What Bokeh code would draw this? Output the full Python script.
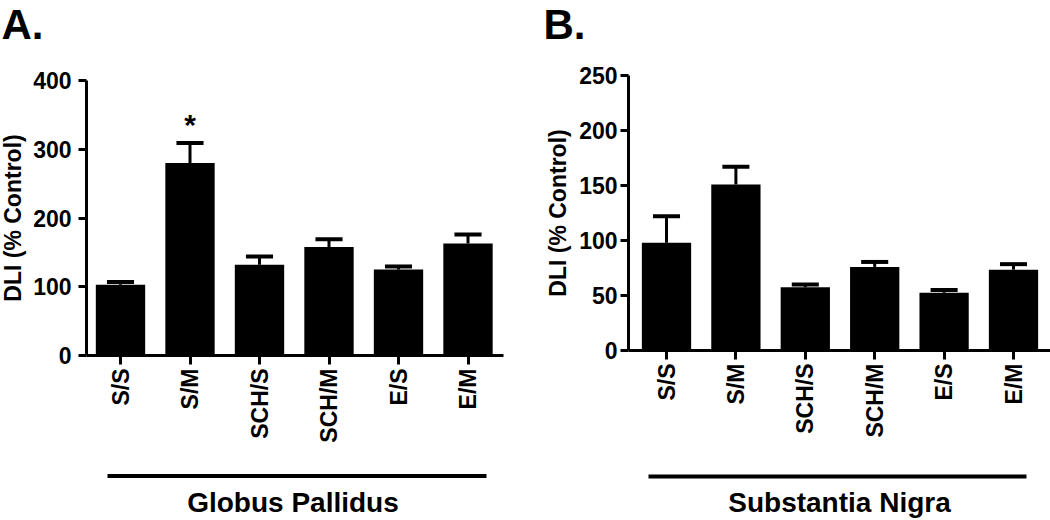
import math
from bokeh.plotting import figure
from bokeh.models import LinearAxis, FixedTicker, Range1d, ColumnDataSource
from bokeh.layouts import row
from bokeh.embed import file_html
from bokeh.resources import INLINE
from bokeh.core.properties import value

# ---------------- data ----------------
categories = ["S/S", "S/M", "SCH/S", "SCH/M", "E/S", "E/M"]

gp_mean = [103, 280, 132, 158, 125, 163]
gp_sem = [4, 29, 12, 11, 4.5, 13]
gp_sig = ["", "*", "", "", "", ""]
gp_ticks = [0, 100, 200, 300, 400]

sn_mean = [98, 151, 57.5, 76, 52.5, 73.5]
sn_sem = [24, 16, 2.5, 4.5, 2.5, 5]
sn_sig = ["", "", "", "", "", ""]
sn_ticks = [0, 50, 100, 150, 200, 250]

y_title = "DLI (% Control)"
FONT = "Liberation Sans"
H = 520


def make_panel(letter, region, means, sems, sig, ticks, cfg):
    W = cfg["W"]
    x0px, xs, y0px, ys = cfg["x0px"], cfg["xs"], cfg["y0px"], cfg["ys"]

    def dx(px):
        return (px - x0px) / xs

    def dy(py):
        return (y0px - py) / ys

    xr = Range1d(dx(0), dx(W))
    yr = Range1d(dy(H), dy(0))
    p = figure(width=W, height=H, x_range=xr, y_range=yr,
               output_backend="svg", toolbar_location=None,
               x_axis_location=None, y_axis_location=None,
               min_border=0, min_border_left=0, min_border_right=0,
               min_border_top=0, min_border_bottom=0,
               outline_line_color=None, background_fill_color="white")
    for g in p.grid:
        g.visible = False

    idx = list(range(len(categories)))
    caps = [m + s for m, s in zip(means, sems)]
    src = ColumnDataSource(dict(
        x=idx, top=means, cap=caps,
        cl=[i - 0.195 for i in idx], cr=[i + 0.195 for i in idx],
        sig=sig, sy=[c + 19 / ys for c in caps],
    ))

    p.vbar(x="x", width=0.71, top="top", bottom=0, source=src,
           fill_color="black", line_color=None)
    p.segment(x0="x", y0="top", x1="x", y1="cap", source=src,
              line_color="black", line_width=3)
    p.segment(x0="cl", y0="cap", x1="cr", y1="cap", source=src,
              line_color="black", line_width=4)
    p.text(x="x", y="sy", text="sig", source=src,
           text_font=value(FONT), text_font_style="bold",
           text_font_size="30px", text_align="center",
           text_baseline="middle", text_color="black")

    # axes
    ya = LinearAxis(fixed_location=dx(cfg["yaxis_px"]),
                    bounds=(ticks[0], ticks[-1]),
                    ticker=FixedTicker(ticks=ticks))
    ya.axis_line_width = 3
    ya.major_tick_line_width = 3
    ya.major_tick_out = 8
    ya.major_tick_in = 0
    ya.minor_tick_line_color = None
    ya.major_label_standoff = cfg["ystand"]
    ya.major_label_text_font = FONT
    ya.major_label_text_font_style = "bold"
    ya.major_label_text_font_size = "23px"
    ya.major_label_text_color = "black"
    p.add_layout(ya, "left")

    xa = LinearAxis(fixed_location=0,
                    bounds=(dx(cfg["yaxis_px"]), dx(cfg["xend_px"])),
                    ticker=FixedTicker(ticks=idx),
                    major_label_overrides={i: c for i, c in zip(idx, categories)})
    xa.axis_line_width = 3
    xa.major_tick_line_width = 3
    xa.major_tick_out = 9
    xa.major_tick_in = 0
    xa.minor_tick_line_color = None
    xa.major_label_orientation = math.pi / 2
    xa.major_label_standoff = 4
    xa.major_label_text_font = FONT
    xa.major_label_text_font_style = "bold"
    xa.major_label_text_font_size = "23px"
    xa.major_label_text_color = "black"
    p.add_layout(xa, "below")

    # y-axis title
    p.text(x=[dx(cfg["ylab_px"])], y=[(ticks[0] + ticks[-1]) / 2], text=[y_title],
           angle=math.pi / 2, text_font=value(FONT), text_font_style="bold",
           text_font_size="23px", text_align="center", text_baseline="middle",
           text_color="black")

    # group bar and region label
    gy = dy(cfg["gline_py"])
    p.segment(x0=[dx(cfg["gline_x0"])], y0=[gy], x1=[dx(cfg["gline_x1"])], y1=[gy],
              line_color="black", line_width=4)
    p.text(x=[dx(cfg["glab_px"])], y=[dy(cfg["glab_py"])], text=[region],
           text_font=value(FONT), text_font_style="bold", text_font_size="28px",
           text_align="center", text_baseline="middle", text_color="black")

    # panel letter
    p.text(x=[dx(cfg["let_px"])], y=[dy(24)], text=[letter],
           text_font=value(FONT), text_font_style="bold", text_font_size="42px",
           text_align="left", text_baseline="middle", text_color="black")
    return p


cfgA = dict(W=520, x0px=120, xs=69.5, y0px=355, ys=0.6875,
            yaxis_px=86, xend_px=503, ystand=7, ylab_px=12,
            gline_py=475.5, gline_x0=107, gline_x1=486,
            glab_px=292.5, glab_py=502, let_px=1)
cfgB = dict(W=530, x0px=146, xs=69.4, y0px=350, ys=1.1,
            yaxis_px=108, xend_px=530, ystand=3, ylab_px=37,
            gline_py=476, gline_x0=128, gline_x1=506,
            glab_px=319, glab_py=502, let_px=23)

pA = make_panel("A.", "Globus Pallidus", gp_mean, gp_sem, gp_sig, gp_ticks, cfgA)
pB = make_panel("B.", "Substantia Nigra", sn_mean, sn_sem, sn_sig, sn_ticks, cfgB)

layout = row(pA, pB)
open("out.html", "w").write(file_html(layout, INLINE))
